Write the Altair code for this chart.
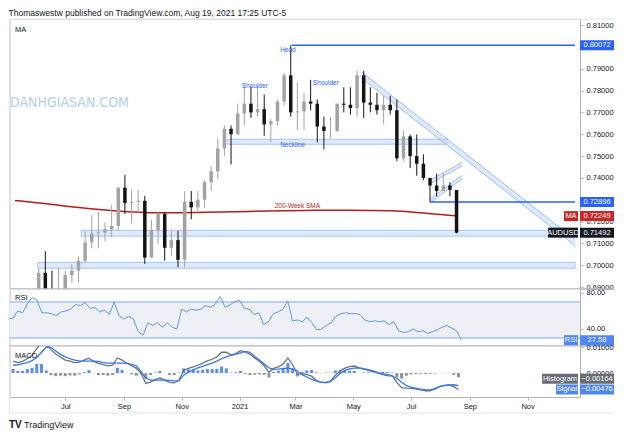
import altair as alt
import pandas as pd
import numpy as np

FONT = "Liberation Sans"
TXT = "#131722"
AXC = "#b2b5be"
FRAME = "#e0e3eb"
BLUE = "#2962ff"

# ---------------- price data (weekly OHLC, AUDUSD) ----------------
week_start = "2020-06-03"
first_open = 0.6670
highs = [0.6984, 0.7064, 0.6975, 0.6988, 0.6975, 0.7005, 0.7040, 0.7156, 0.7230, 0.7243,
         0.7196, 0.7276, 0.7360, 0.7414, 0.7345, 0.7345, 0.7318, 0.7209, 0.7243, 0.7243,
         0.7158, 0.7158, 0.7340, 0.7340, 0.7340, 0.7390, 0.7454, 0.7580, 0.7640, 0.7640,
         0.7740, 0.7820, 0.7819, 0.7820, 0.7782, 0.7670, 0.7760, 0.7880, 0.8007, 0.7838,
         0.7790, 0.7849, 0.7760, 0.7680, 0.7680, 0.7740, 0.7815, 0.7815, 0.7891, 0.7891,
         0.7815, 0.7790, 0.7775, 0.7776, 0.7760, 0.7617, 0.7598, 0.7599, 0.7508, 0.7390,
         0.7420, 0.7425, 0.7380, 0.7315]
lows = [0.6665, 0.6834, 0.6776, 0.6832, 0.6832, 0.6920, 0.6923, 0.7012, 0.7077, 0.7077,
        0.7110, 0.7130, 0.7159, 0.7234, 0.7191, 0.7240, 0.7006, 0.7035, 0.7097, 0.7021,
        0.7041, 0.6991, 0.6991, 0.7210, 0.7248, 0.7263, 0.7340, 0.7395, 0.7500, 0.7462,
        0.7600, 0.7640, 0.7675, 0.7680, 0.7593, 0.7563, 0.7640, 0.7730, 0.7680, 0.7620,
        0.7620, 0.7710, 0.7563, 0.7531, 0.7580, 0.7610, 0.7700, 0.7690, 0.7680, 0.7675,
        0.7700, 0.7690, 0.7645, 0.7690, 0.7477, 0.7477, 0.7445, 0.7410, 0.7390, 0.7290,
        0.7315, 0.7350, 0.7315, 0.7146]
closes = [0.6965, 0.6865, 0.6855, 0.6880, 0.6955, 0.6975, 0.7020, 0.7105, 0.7145, 0.7150,
          0.7165, 0.7180, 0.7355, 0.7285, 0.7290, 0.7295, 0.7035, 0.7160, 0.7235, 0.7080,
          0.7115, 0.7025, 0.7290, 0.7265, 0.7300, 0.7380, 0.7430, 0.7535, 0.7625, 0.7600,
          0.7695, 0.7740, 0.7700, 0.7715, 0.7645, 0.7660, 0.7750, 0.7870, 0.7700, 0.7705,
          0.7750, 0.7740, 0.7635, 0.7615, 0.7615, 0.7740, 0.7735, 0.7720, 0.7870, 0.7745,
          0.7735, 0.7710, 0.7735, 0.7710, 0.7490, 0.7590, 0.7500, 0.7465, 0.7400, 0.7365,
          0.7340, 0.7365, 0.7345, 0.7149]

# 200-week SMA
sma_dates = ["2020-05-09", "2020-06-13", "2020-07-13", "2020-08-12", "2020-09-11", "2020-10-16",
             "2020-11-26", "2021-01-17", "2021-03-09", "2021-04-29", "2021-06-10", "2021-07-11",
             "2021-08-01", "2021-08-19"]
sma_values = [0.7297, 0.7280, 0.7265, 0.7253, 0.7244, 0.7240, 0.7243, 0.7247, 0.7251, 0.7252,
              0.7249, 0.7240, 0.7232, 0.7225]

# ---------------- indicators (5-day samples) ----------------
ind_start = "2020-05-07"
rsi_values = [51, 52, 60, 58, 68, 75, 72, 58, 58, 57, 55, 59, 60, 62, 67, 66, 69, 63, 64, 59,
              61, 56, 70, 55, 51, 54, 51, 37, 33, 47, 44, 47, 42, 47, 42, 40, 62, 59, 62, 61,
              62, 66, 64, 68, 76, 64, 67, 70, 72, 63, 62, 56, 58, 45, 48, 57, 59, 62, 71, 49,
              50, 48, 53, 47, 39, 40, 44, 47, 54, 57, 58, 57, 57, 56, 50, 48, 49, 48, 49, 45,
              48, 38, 36, 37, 40, 37, 38, 35, 37, 39, 42, 44, 41, 38, 27.58]
macd_values = [0.0046, 0.0040, 0.0045, 0.0055, 0.0068, 0.0095, 0.0115, 0.0110, 0.0090, 0.0073,
               0.0062, 0.0050, 0.0046, 0.0040, 0.0042, 0.0050, 0.0057, 0.0045, 0.0037, 0.0032,
               0.0028, 0.0030, 0.0058, 0.0050, 0.0038, 0.0028, 0.0018, 0.0000, -0.0040, -0.0035,
               -0.0025, -0.0019, -0.0027, -0.0036, -0.0038, -0.0028, 0.0010, 0.0018, 0.0024, 0.0030,
               0.0038, 0.0047, 0.0053, 0.0062, 0.0080, 0.0080, 0.0070, 0.0075, 0.0086, 0.0080,
               0.0072, 0.0058, 0.0045, 0.0028, 0.0003, 0.0018, 0.0024, 0.0035, 0.0058, 0.0032,
               -0.0005, -0.0002, -0.0005, -0.0012, -0.0028, -0.0036, -0.0036, -0.0031, -0.0008, 0.0008,
               0.0019, 0.0025, 0.0027, 0.0020, 0.0017, 0.0013, 0.0008, 0.0002, -0.0002, -0.0006,
               -0.0010, -0.0036, -0.0056, -0.0058, -0.0059, -0.0062, -0.0065, -0.0068, -0.0068, -0.0062,
               -0.0052, -0.0047, -0.0045, -0.0052, -0.0064]
signal_values = [0.0030, 0.0032, 0.0036, 0.0040, 0.0048, 0.0060, 0.0080, 0.0100, 0.0098, 0.0085,
                 0.0072, 0.0062, 0.0055, 0.0050, 0.0047, 0.0046, 0.0046, 0.0046, 0.0045, 0.0040,
                 0.0038, 0.0038, 0.0038, 0.0038, 0.0037, 0.0033, 0.0028, 0.0005, -0.0018, -0.0027,
                 -0.0027, -0.0027, -0.0027, -0.0028, -0.0030, -0.0030, -0.0008, 0.0004, 0.0012, 0.0020,
                 0.0026, 0.0032, 0.0038, 0.0046, 0.0055, 0.0062, 0.0068, 0.0072, 0.0078, 0.0083,
                 0.0080, 0.0064, 0.0050, 0.0035, 0.0020, 0.0014, 0.0015, 0.0018, 0.0019, 0.0016,
                 0.0008, -0.0006, -0.0015, -0.0024, -0.0031, -0.0035, -0.0038, -0.0032, -0.0018, -0.0002,
                 0.0010, 0.0016, 0.0019, 0.0020, 0.0015, 0.0010, 0.0006, 0.0000, -0.0006, -0.0010,
                 -0.0012, -0.0020, -0.0035, -0.0048, -0.0054, -0.0058, -0.0062, -0.0064, -0.0065, -0.0060,
                 -0.0052, -0.0048, -0.0046, -0.0045, -0.0048]

# ---------------- annotations ----------------
end_date = "2021-12-21"
zone_starts = ["2020-12-19", "2020-07-18", "2020-06-02"]
zone_ends = ["2021-08-08", end_date, end_date]
zone_tops = [0.7577, 0.7160, 0.7013]
zone_bottoms = [0.7554, 0.7133, 0.6986]

level_starts = ["2021-02-25", "2021-07-21"]
level_values = [0.80072, 0.72896]

ann_dates = ["2021-02-21", "2021-01-17", "2021-04-02", "2021-02-26"]
ann_prices = [0.7985, 0.7820, 0.7834, 0.7551]
ann_texts = ["Head", "Shoulder", "Shoulder", "Neckline"]
sma_label = ("2021-03-03", 0.7270, "200-Week SMA")

# descending channel band and small rising bands: (start, end, start_top, end_top, thickness)
bands = [
    ("2021-05-10", end_date, 0.7884, 0.7118, 0.0028),
    ("2021-07-23", "2021-08-24", 0.7394, 0.7472, 0.0016),
    ("2021-07-21", "2021-08-24", 0.7302, 0.7412, 0.0016),
]

tag_price_values = [0.80072, 0.72896, 0.72249, 0.71492]
tag_price_texts = ["0.80072", "0.72896", "0.72249", "0.71492"]
rsi_last = 27.58
hist_last, signal_last = -0.00164, -0.00476

# ---------------- scales / axes ----------------
xs = alt.Scale(domain=[alt.DateTime(year=2020, month=5, date=9),
                       alt.DateTime(year=2021, month=12, date=21)])
x_bottom = alt.Axis(values=[alt.DateTime(year=2020, month=m, date=1) for m in (7, 9, 11)]
                    + [alt.DateTime(year=2021, month=m, date=1) for m in (1, 3, 5, 7, 9, 11)],
                    labelExpr="month(datum.value) == 0 ? timeFormat(datum.value, '%Y') : timeFormat(datum.value, '%b')",
                    labelFontSize=7.5, labelColor=TXT, labelFont=FONT, tickSize=3, tickColor=AXC,
                    domainColor=AXC, grid=False, title=None, labelPadding=2)

ys_price = alt.Scale(domain=[0.6891, 0.8128], nice=False, zero=False)
price_ticks = [0.69, 0.70, 0.71, 0.72, 0.74, 0.75, 0.76, 0.77, 0.78, 0.79, 0.81]
ax_price = alt.Axis(orient="right", values=price_ticks, format=".5f",
                    labelFontSize=7.5, labelColor=TXT, labelFont=FONT, tickSize=3, tickColor=AXC,
                    domainColor=AXC, grid=False, title=None, labelPadding=3)
ys_rsi = alt.Scale(domain=[21.1, 84.4], nice=False, zero=False)
ax_rsi = alt.Axis(orient="right", values=[40, 80], format=".2f", labelFontSize=7.5, labelColor=TXT,
                  labelFont=FONT, tickSize=3, tickColor=AXC, domainColor=AXC, grid=False, title=None,
                  labelPadding=3)
ys_macd = alt.Scale(domain=[-0.0092, 0.0104], nice=False, zero=False)
ax_macd = alt.Axis(orient="right", values=[0.01, 0.0], format=".5f", labelFontSize=7.5, labelColor=TXT,
                   labelFont=FONT, tickSize=3, tickColor=AXC, domainColor=AXC, grid=False, title=None,
                   labelPadding=3)

W = 570
R = W + 34   # right edge of the price-scale area


def tag(value, text, fill, ys, ax, label=None, label_w=0, dy=0):
    d = pd.DataFrame({"v": [value], "t": [text], "l": [label or ""]})
    b = alt.Chart(d).encode(y=alt.Y("v:Q", scale=ys, axis=ax))
    out = [
        b.mark_rect(color=fill, yOffset=-5 + dy, y2Offset=5 + dy).encode(
            x=alt.value(W), x2=alt.value(R), y2="v:Q"),
        b.mark_text(color="white", fontSize=7.5, font=FONT, dy=dy).encode(x=alt.value(W + 17), text="t:N"),
    ]
    if label:
        out += [
            b.mark_rect(color=fill, yOffset=-5 + dy, y2Offset=5 + dy).encode(
                x=alt.value(W - 2 - label_w), x2=alt.value(W - 2), y2="v:Q"),
            b.mark_text(color="white", fontSize=7.5, font=FONT, dy=dy).encode(
                x=alt.value(W - 2 - label_w / 2), text="l:N"),
        ]
    return out


one = pd.DataFrame({"t": [0]})


def separator(h):
    return [
        alt.Chart(one).mark_rule(color=AXC, strokeWidth=1.5).encode(
            x=alt.value(0), x2=alt.value(R), y=alt.value(h)),
        alt.Chart(one).mark_rule(color=FRAME, strokeWidth=1).encode(
            x=alt.value(-0.5), y=alt.value(0), y2=alt.value(h)),
    ]


# ---------------- price panel ----------------
dates = pd.date_range(week_start, periods=len(closes), freq="7D")
opens = [first_open] + closes[:-1]
cdf = pd.DataFrame({"date": dates, "open": opens, "high": highs, "low": lows, "close": closes})
ccol = alt.condition("datum.close >= datum.open", alt.value("#a3a3a3"), alt.value("#141414"))
cbase = alt.Chart(cdf).encode(x=alt.X("date:T", scale=xs, axis=None))
wick = cbase.mark_rule(clip=True, strokeWidth=1).encode(
    y=alt.Y("low:Q", scale=ys_price, axis=ax_price), y2="high:Q", color=ccol)
body = cbase.mark_bar(clip=True, size=3.5).encode(
    y=alt.Y("open:Q", scale=ys_price, axis=ax_price), y2="close:Q", color=ccol)

zdf = pd.DataFrame({"s": pd.to_datetime(zone_starts), "e": pd.to_datetime(zone_ends),
                    "t": zone_tops, "b": zone_bottoms})
zones = alt.Chart(zdf).mark_rect(fill="#c5d8fb", fillOpacity=0.55, stroke="#6f9bf4", strokeOpacity=0.55,
                                 strokeWidth=1, clip=True).encode(
    x=alt.X("s:T", scale=xs, axis=None), x2="e:T",
    y=alt.Y("t:Q", scale=ys_price, axis=ax_price), y2="b:Q")

band_layers = []
for s, e, t0, t1, th in bands:
    bd = pd.DataFrame({"d": pd.to_datetime([s, e]), "top": [t0, t1], "bot": [t0 - th, t1 - th]})
    bb = alt.Chart(bd).encode(x=alt.X("d:T", scale=xs, axis=None))
    band_layers.append(bb.mark_area(color="#c5d8fb", opacity=0.55, clip=True).encode(
        y=alt.Y("top:Q", scale=ys_price, axis=ax_price), y2="bot:Q"))
    band_layers.append(bb.mark_line(color="#7ea5f5", strokeWidth=1, opacity=0.7, clip=True).encode(
        y=alt.Y("top:Q", scale=ys_price, axis=ax_price)))
    band_layers.append(bb.mark_line(color="#7ea5f5", strokeWidth=1, opacity=0.7, clip=True).encode(
        y=alt.Y("bot:Q", scale=ys_price, axis=ax_price)))

ldf = pd.DataFrame({"s": pd.to_datetime(level_starts), "e": pd.to_datetime([end_date] * len(level_starts)),
                    "v": level_values})
levels = alt.Chart(ldf).mark_rule(color=BLUE, strokeWidth=1.5).encode(
    x=alt.X("s:T", scale=xs, axis=None), x2="e:T", y=alt.Y("v:Q", scale=ys_price, axis=ax_price))

sdf = pd.DataFrame({"d": pd.to_datetime(sma_dates), "v": sma_values})
sma = alt.Chart(sdf).mark_line(color="#b71c1c", strokeWidth=1.5, interpolate="monotone", clip=True).encode(
    x=alt.X("d:T", scale=xs, axis=None), y=alt.Y("v:Q", scale=ys_price, axis=ax_price))

adf = pd.DataFrame({"d": pd.to_datetime(ann_dates), "v": ann_prices, "t": ann_texts})
ann = alt.Chart(adf).mark_text(fontSize=6.5, font=FONT, color=BLUE).encode(
    x=alt.X("d:T", scale=xs, axis=None), y=alt.Y("v:Q", scale=ys_price, axis=ax_price), text="t:N")
sdl = pd.DataFrame({"d": pd.to_datetime([sma_label[0]]), "v": [sma_label[1]], "t": [sma_label[2]]})
sma_text = alt.Chart(sdl).mark_text(fontSize=6.5, font=FONT, color="#b71c1c").encode(
    x=alt.X("d:T", scale=xs, axis=None), y=alt.Y("v:Q", scale=ys_price, axis=ax_price), text="t:N")

ma_label = alt.Chart(pd.DataFrame({"t": ["MA"]})).mark_text(align="left", fontSize=7.5, font=FONT,
                                                          color=TXT).encode(
    x=alt.value(5), y=alt.value(11), text="t:N")
watermark = alt.Chart(pd.DataFrame({"t": ["DANHGIASAN.COM"]})).mark_text(
    align="left", fontSize=14, font="DejaVu Sans Condensed, Liberation Sans", color="#a9c6e8",
    opacity=0.85).encode(x=alt.value(0), y=alt.value(84), text="t:N")
top_frame = alt.Chart(one).mark_rule(color=FRAME, strokeWidth=1).encode(
    x=alt.value(-0.5), x2=alt.value(R), y=alt.value(0))

price_tags = []
price_tags += tag(tag_price_values[0], tag_price_texts[0], BLUE, ys_price, ax_price)
price_tags += tag(tag_price_values[1], tag_price_texts[1], BLUE, ys_price, ax_price)
price_tags += tag(tag_price_values[2], tag_price_texts[2], "#c62828", ys_price, ax_price, "MA", 14)
price_tags += tag(tag_price_values[3], tag_price_texts[3], "#131722", ys_price, ax_price, "AUDUSD", 30)

price = alt.layer(watermark, top_frame, zones, *band_layers, sma, levels, wick, body, ann, sma_text,
                  ma_label, *separator(270), *price_tags).properties(width=W, height=270)

# ---------------- RSI panel ----------------
idates = pd.date_range(ind_start, periods=len(rsi_values), freq="5D")
rdf = pd.DataFrame({"d": idates, "v": rsi_values})
rband = alt.Chart(pd.DataFrame({"hi": [70], "lo": [30]})).mark_rect(color="#eef0f5").encode(
    x=alt.value(0), x2=alt.value(W), y=alt.Y("hi:Q", scale=ys_rsi, axis=ax_rsi), y2="lo:Q")
rlines = alt.Chart(pd.DataFrame({"v": [70, 30]})).mark_rule(color="#7ea5f5", strokeWidth=1).encode(
    x=alt.value(0), x2=alt.value(W), y=alt.Y("v:Q", scale=ys_rsi, axis=ax_rsi))
rline = alt.Chart(rdf).mark_line(color="#5b9cf6", strokeWidth=1, clip=True).encode(
    x=alt.X("d:T", scale=xs, axis=None), y=alt.Y("v:Q", scale=ys_rsi, axis=ax_rsi))
rlabel = alt.Chart(pd.DataFrame({"t": ["RSI"]})).mark_text(align="left", fontSize=7.5, font=FONT,
                                                         color=TXT).encode(
    x=alt.value(5), y=alt.value(9), text="t:N")
rsi_tags = tag(rsi_last, f"{rsi_last:.2f}", "#4f86f7", ys_rsi, ax_rsi, "RSI", 14)
rsi = alt.layer(rband, rlines, rline, rlabel, *separator(57), *rsi_tags).properties(width=W, height=57)

# ---------------- MACD panel ----------------
mdf = pd.DataFrame({"d": idates, "macd": macd_values, "sig": signal_values})
mdf["hist"] = mdf["macd"] - mdf["sig"]
mbase = alt.Chart(mdf).encode(x=alt.X("d:T", scale=xs, axis=x_bottom))
hist = mbase.mark_bar(size=3, clip=True).encode(
    y=alt.Y("hist:Q", scale=ys_macd, axis=ax_macd), y2=alt.datum(0),
    color=alt.condition("datum.hist >= 0", alt.value("#5b8def"), alt.value("#8f929b")))
macd_line = mbase.mark_line(color="#6f727b", strokeWidth=1.3, clip=True).encode(
    y=alt.Y("macd:Q", scale=ys_macd, axis=ax_macd))
sig_line = mbase.mark_line(color="#3179f5", strokeWidth=1.3, clip=True).encode(
    y=alt.Y("sig:Q", scale=ys_macd, axis=ax_macd))
mlabel = alt.Chart(pd.DataFrame({"t": ["MACD"]})).mark_text(align="left", fontSize=7.5, font=FONT,
                                                          color=TXT).encode(
    x=alt.value(5), y=alt.value(10), text="t:N")
logo = alt.Chart(pd.DataFrame({"t": ["TV"]})).mark_text(align="left", fontSize=10, font=FONT,
                                                      fontWeight="bold", color=TXT).encode(
    x=alt.value(-1), y=alt.value(79), text="t:N")
brand = alt.Chart(pd.DataFrame({"t": ["TradingView"]})).mark_text(align="left", fontSize=9, font=FONT,
                                                                color=TXT).encode(
    x=alt.value(14), y=alt.value(79), text="t:N")
macd_frame = [
    alt.Chart(one).mark_rule(color=FRAME, strokeWidth=1).encode(x=alt.value(-0.5), y=alt.value(0), y2=alt.value(67)),
    alt.Chart(one).mark_rule(color=FRAME, strokeWidth=1).encode(x=alt.value(-0.5), x2=alt.value(R), y=alt.value(67)),
]
macd_tags = []
macd_tags += tag(hist_last, "\u22120.00164", "#6a6d78", ys_macd, ax_macd, "Histogram", 36, dy=1.5)
macd_tags += tag(signal_last, "\u22120.00476", "#4f86f7", ys_macd, ax_macd, "Signal", 22, dy=4)
macd = alt.layer(hist, macd_line, sig_line, mlabel, logo, brand, *macd_frame,
                 *macd_tags).properties(width=W, height=51)

chart = alt.vconcat(price, rsi, macd, spacing=0, bounds="flush").properties(
    title=alt.TitleParams(text="Thomaswestw published on TradingView.com, Aug 19, 2021 17:25 UTC-5",
                          anchor="start", fontSize=8.5, fontWeight="normal", color=TXT, font=FONT, offset=1),
    padding={"left": 0, "top": 0, "right": 0, "bottom": 0},
).configure_view(stroke=None).configure(background="white")

chart.save("out.html", embed_options={"renderer": "svg", "actions": False})
